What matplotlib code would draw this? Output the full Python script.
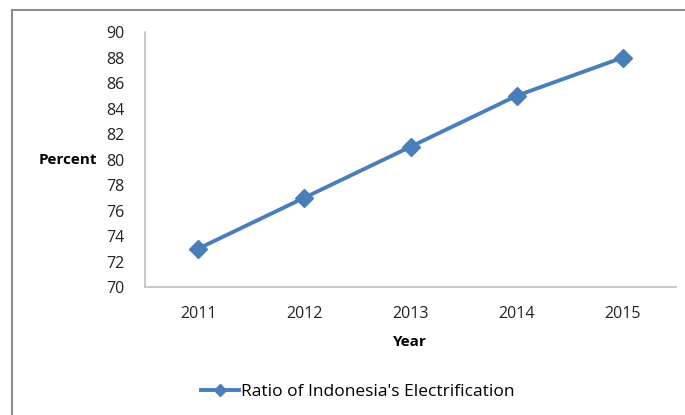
import matplotlib
matplotlib.use('Agg')
import matplotlib.pyplot as plt
from matplotlib.patches import Rectangle

years = ['2011', '2012', '2013', '2014', '2015']
ratio = [73, 77, 81, 85, 88]
yticks = list(range(70, 91, 2))

plt.rcParams['font.family'] = ['Open Sans', 'DejaVu Sans']

fig = plt.figure(figsize=(6.85, 4.15), dpi=100)
ax = fig.add_axes([145/685, 1-287/415, (676-145)/685, (287-32)/415])

x = range(len(years))
ax.plot(x, ratio, color='#4A7EBB', lw=2.8, marker='D', ms=9,
        label="Ratio of Indonesia's Electrification")

ax.set_xlim(-0.5, len(years)-0.5)
ax.set_ylim(70, 90)
ax.set_yticks(yticks)
ax.set_xticks(list(x))
ax.set_xticklabels(years)
ax.tick_params(length=0, labelsize=11.5, colors='#222222')
ax.tick_params(axis='x', pad=14)
ax.tick_params(axis='y', pad=15)
for s in ['top', 'right']:
    ax.spines[s].set_visible(False)
for s in ['left', 'bottom']:
    ax.spines[s].set_color('#BFBFBF')
    ax.spines[s].set_linewidth(1.2)

fig.text(68/685, 1-160/415, 'Percent', ha='center', va='center',
         fontsize=11, fontweight='bold')
fig.text(410/685, 1-342/415, 'Year', ha='center', va='center',
         fontsize=11, fontweight='bold')

fig.legend(loc='center', bbox_to_anchor=(358/685, 1-392/415), frameon=False,
           fontsize=12.5, handlelength=2.2, handletextpad=0.1, markerscale=0.7)

fig.patches.append(Rectangle((12/685, -0.1), 1.2, 1.1-10/415, transform=fig.transFigure,
                             fill=False, edgecolor='#8C8C8C', lw=1.5))

fig.savefig('out.png', dpi=100)
